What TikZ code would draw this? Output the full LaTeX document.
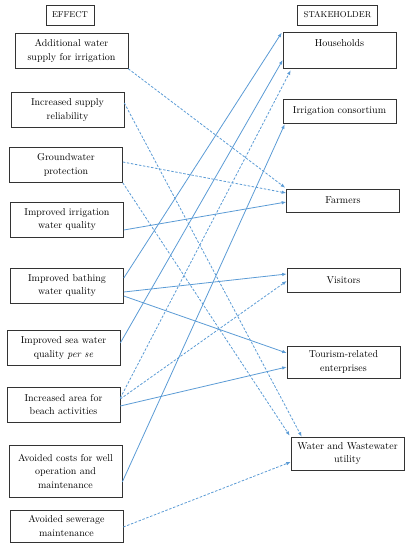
\documentclass[tikz,border=0pt]{standalone}
\usepackage{tikz}
\usetikzlibrary{arrows.meta,positioning,calc}
\usepackage{xcolor}
\definecolor{LinkBlue}{RGB}{91,155,213}

\begin{document}
\begin{tikzpicture}[x=1pt,y=-1pt,
  effbox/.style={rectangle,draw=black!80,line width=0.6pt,minimum width=113pt,minimum height=35pt,align=center,inner sep=2pt,font=\fontsize{10}{13.5}\selectfont},
  headbox/.style={effbox,minimum width=0pt,minimum height=20pt,inner xsep=6pt,font=\fontsize{8.5}{10}\selectfont},
  link/.style={-{Latex[length=4.5pt,width=3.5pt]},line width=0.8pt,LinkBlue},
  dlink/.style={link,dash pattern=on 2.5pt off 1.6pt}
]
  \useasboundingbox (0,0) rectangle (411,550);
  % effects
  \node[headbox] (eff) at (70,15) {EFFECT};
  \node[effbox] (supply) at (71.5,51) {Additional water\\supply for irrigation};
  \node[effbox] (reliab) at (67.5,110) {Increased supply\\reliability};
  \node[effbox] (ground) at (66,165) {Groundwater\\protection};
  \node[effbox] (irrq) at (67,219.5) {Improved irrigation\\water quality};
  \node[effbox] (bath) at (67,285.5) {Improved bathing\\water quality};
  \node[effbox] (sea) at (63.5,348) {Improved sea water\\quality \textit{per se}};
  \node[effbox] (beach) at (63.5,404.5) {Increased area for\\beach activities};
  \node[effbox,minimum height=52pt] (costs) at (65.5,471) {Avoided costs for well\\operation and\\maintenance};
  \node[effbox,minimum height=32pt] (sewer) at (66.5,526) {Avoided sewerage\\maintenance};
  % stakeholders
  \node[headbox] (stake) at (337.5,15) {STAKEHOLDER};
  \node[effbox,minimum height=36pt,text depth=14pt] (hh) at (339.5,50) {Households};
  \node[effbox,minimum height=24pt] (irrc) at (339.5,111) {Irrigation consortium};
  \node[effbox,minimum height=23pt] (farm) at (343,200.5) {Farmers};
  \node[effbox,minimum height=24pt] (visit) at (343.5,280) {Visitors};
  \node[effbox,minimum height=32pt] (tour) at (343.5,362) {Tourism-related\\enterprises};
  \node[effbox,minimum height=33pt] (util) at (347.5,453.5) {Water and Wastewater\\utility};
  % links
  \draw[dlink] (supply.south east) -- ([xshift=-1pt,yshift=1pt]farm.north west);
  \draw[dlink] ([yshift=7pt]reliab.east) -- ([xshift=11pt]util.north west);
  \draw[dlink] ([yshift=3pt]ground.east) -- ([yshift=7.5pt]farm.west);
  \draw[dlink] (ground.south east) -- ([xshift=-1pt,yshift=1pt]util.north west);
  \draw[link] ([yshift=-10.5pt]irrq.east) -- ([yshift=-1.5pt]farm.west);
  \draw[link] ([yshift=7.5pt]bath.east) -- ([xshift=-1pt,yshift=-1pt]hh.north west);
  \draw[link] ([yshift=-6.5pt]bath.east) -- ([yshift=6pt]visit.west);
  \draw[link] ([yshift=-10.5pt]bath.east) -- ([yshift=9pt]tour.west);
  \draw[link] ([yshift=5pt]sea.east) -- ([yshift=-10pt]hh.west);
  \draw[dlink] ([yshift=6.5pt]beach.east) -- ([xshift=8pt,yshift=-2pt]hh.south west);
  \draw[dlink] ([yshift=5.5pt]beach.east) -- ([yshift=-1pt]visit.west);
  \draw[link] ([yshift=-1.5pt]beach.east) -- ([yshift=-5pt]tour.west);
  \draw[link] ([yshift=-11pt]costs.east) -- ([xshift=2pt,yshift=-1pt]irrc.south west);
  \draw[dlink] ([yshift=-1pt]sewer.east) -- ([yshift=-8.5pt]util.west);
\end{tikzpicture}
\end{document}
